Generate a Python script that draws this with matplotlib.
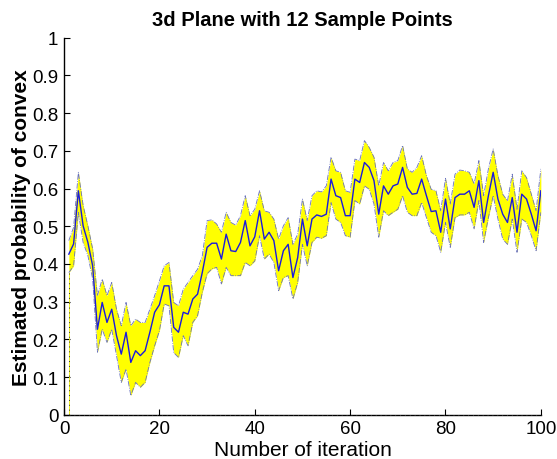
import numpy as np
import matplotlib
matplotlib.use("Agg")
import matplotlib.pyplot as plt

plt.rcParams['font.family'] = ['Liberation Sans', 'DejaVu Sans']

iterations = list(range(1, 101))

mean_prob = [
    0.426, 0.453, 0.594, 0.501, 0.457, 0.395, 0.227, 0.298, 0.245, 0.280,
    0.210, 0.161, 0.219, 0.139, 0.170, 0.157, 0.170, 0.219, 0.272, 0.292,
    0.342, 0.342, 0.232, 0.219, 0.272, 0.267, 0.307, 0.320, 0.378, 0.444,
    0.455, 0.455, 0.413, 0.479, 0.435, 0.433, 0.457, 0.515, 0.448, 0.472,
    0.541, 0.466, 0.484, 0.462, 0.382, 0.435, 0.452, 0.364, 0.417, 0.519,
    0.448, 0.519, 0.530, 0.526, 0.532, 0.625, 0.581, 0.576, 0.528, 0.528,
    0.625, 0.616, 0.669, 0.656, 0.621, 0.532, 0.607, 0.585, 0.607, 0.612,
    0.656, 0.603, 0.585, 0.587, 0.625, 0.581, 0.539, 0.541, 0.484, 0.572,
    0.493, 0.576, 0.585, 0.585, 0.594, 0.550, 0.621, 0.510, 0.581, 0.643,
    0.572, 0.532, 0.510, 0.576, 0.484, 0.585, 0.572, 0.532, 0.488, 0.594,
]

upper_prob = [
    0.462, 0.497, 0.643, 0.555, 0.501, 0.440, 0.316, 0.360, 0.316, 0.351,
    0.280, 0.236, 0.298, 0.236, 0.254, 0.245, 0.245, 0.280, 0.316, 0.355,
    0.395, 0.404, 0.298, 0.289, 0.333, 0.351, 0.369, 0.386, 0.422, 0.515,
    0.517, 0.506, 0.484, 0.537, 0.510, 0.503, 0.528, 0.581, 0.528, 0.545,
    0.594, 0.541, 0.537, 0.519, 0.466, 0.501, 0.523, 0.452, 0.479, 0.572,
    0.515, 0.581, 0.594, 0.591, 0.607, 0.683, 0.647, 0.643, 0.594, 0.590,
    0.678, 0.674, 0.727, 0.709, 0.683, 0.607, 0.669, 0.647, 0.669, 0.674,
    0.714, 0.652, 0.643, 0.656, 0.687, 0.634, 0.598, 0.594, 0.541, 0.627,
    0.559, 0.638, 0.649, 0.647, 0.643, 0.612, 0.674, 0.581, 0.652, 0.705,
    0.634, 0.585, 0.567, 0.638, 0.545, 0.647, 0.629, 0.585, 0.541, 0.652,
]

lower_prob = [
    0.377, 0.395, 0.537, 0.457, 0.422, 0.360, 0.166, 0.227, 0.192, 0.227,
    0.157, 0.086, 0.121, 0.051, 0.086, 0.073, 0.086, 0.139, 0.183, 0.223,
    0.294, 0.289, 0.165, 0.152, 0.210, 0.183, 0.245, 0.263, 0.325, 0.374,
    0.387, 0.391, 0.347, 0.391, 0.369, 0.369, 0.369, 0.404, 0.395, 0.408,
    0.475, 0.413, 0.426, 0.404, 0.329, 0.364, 0.369, 0.307, 0.351, 0.452,
    0.395, 0.457, 0.471, 0.468, 0.475, 0.563, 0.519, 0.510, 0.475, 0.471,
    0.568, 0.559, 0.607, 0.598, 0.559, 0.471, 0.541, 0.528, 0.537, 0.545,
    0.581, 0.537, 0.528, 0.528, 0.563, 0.523, 0.484, 0.475, 0.431, 0.510,
    0.444, 0.523, 0.530, 0.530, 0.537, 0.493, 0.568, 0.457, 0.523, 0.581,
    0.519, 0.466, 0.452, 0.519, 0.431, 0.519, 0.510, 0.475, 0.435, 0.537,
]

x_ticks = [0, 20, 40, 60, 80, 100]
y_ticks = [0, 0.1, 0.2, 0.3, 0.4, 0.5, 0.6, 0.7, 0.8, 0.9, 1]
y_ticklabels = ['0', '0.1', '0.2', '0.3', '0.4', '0.5', '0.6', '0.7', '0.8', '0.9', '1']

fig = plt.figure(figsize=(5.57, 4.60), dpi=100)
ax = fig.add_axes([0.115, 0.096, 0.856, 0.820])

x = np.array(iterations)
lo = np.array(lower_prob)
up = np.array(upper_prob)

ax.fill_between(x, lo, up, color='yellow', linewidth=0, zorder=1)
# edges of the filled polygon (down to zero)
ax.plot([x[0], x[0]], [0, lo[0]], color='#f0f000', lw=0.6, zorder=2)
ax.plot([x[-1], x[-1]], [0, up[-1]], color='#f0f000', lw=0.6, zorder=2)
ax.plot([x[0], x[0]], [0, lo[0]], color='#333333', lw=0.7, ls=(0, (1, 4)), zorder=3)
ax.plot([x[-1], x[-1]], [0, up[-1]], color='#333333', lw=0.7, ls=(0, (1, 4)), zorder=3)
ax.plot([x[0], x[-1]], [0, 0], color='#333333', lw=0.7, ls=(0, (1, 4)), zorder=3, clip_on=False)

ax.plot(x, up, color='#6870c0', lw=0.6, ls='-.', zorder=3)
ax.plot(x, lo, color='#6870c0', lw=0.6, ls='-.', zorder=3)
ax.plot(x, mean_prob, color='#1a1adf', lw=1.0, zorder=4)

ax.set_xlim(0, 100)
ax.set_ylim(0, 1)
ax.set_xticks(x_ticks)
ax.set_xticklabels([str(t) for t in x_ticks], fontsize=13.5)
ax.set_yticks(y_ticks)
ax.set_yticklabels(y_ticklabels, fontsize=13.5)
ax.tick_params(direction='in', length=4, width=0.8, pad=4)
ax.spines['top'].set_visible(False)
ax.spines['right'].set_visible(False)
ax.spines['left'].set_linewidth(1.0)
ax.spines['bottom'].set_linewidth(1.0)

ax.set_xlabel('Number of iteration', fontsize=15, labelpad=2)
ax.set_ylabel('Estimated probability of convex', fontsize=15, fontweight='bold', labelpad=1)
ax.set_title('3d Plane with 12 Sample Points', fontsize=14.5, fontweight='bold', pad=9)

fig.savefig('out.png', dpi=100)
